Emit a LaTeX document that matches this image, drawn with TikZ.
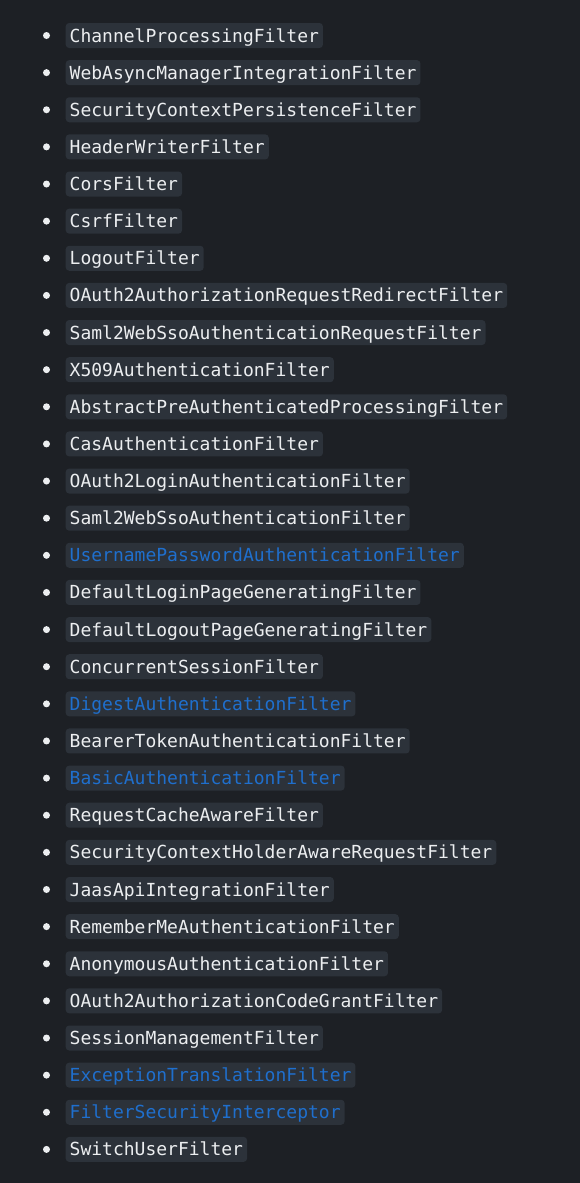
\documentclass[tikz,border=0pt]{standalone}
\usepackage{fontspec}
\setmonofont{DejaVu Sans Mono}
\definecolor{bgc}{RGB}{29,32,37}
\definecolor{boxc}{RGB}{44,50,58}
\definecolor{txtc}{RGB}{236,238,240}
\definecolor{linkc}{RGB}{31,111,205}
\begin{document}
\begin{tikzpicture}[x=1pt,y=-1pt,
  codebox/.style={anchor=west,fill=boxc,rounded corners=3.5pt,inner xsep=4pt,inner ysep=0pt,
    minimum height=25pt,text height=13pt,text depth=0pt,
    font=\fontsize{18}{18}\selectfont\ttfamily},
  bulletdot/.style={circle,fill=txtc,inner sep=0pt,minimum size=7pt}]
\fill[bgc] (0,0) rectangle (580,1183);
\useasboundingbox (0,0) rectangle (580,1183);
\foreach \name/\col [count=\i from 0] in {
  ChannelProcessingFilter/txtc,
  WebAsyncManagerIntegrationFilter/txtc,
  SecurityContextPersistenceFilter/txtc,
  HeaderWriterFilter/txtc,
  CorsFilter/txtc,
  CsrfFilter/txtc,
  LogoutFilter/txtc,
  OAuth2AuthorizationRequestRedirectFilter/txtc,
  Saml2WebSsoAuthenticationRequestFilter/txtc,
  X509AuthenticationFilter/txtc,
  AbstractPreAuthenticatedProcessingFilter/txtc,
  CasAuthenticationFilter/txtc,
  OAuth2LoginAuthenticationFilter/txtc,
  Saml2WebSsoAuthenticationFilter/txtc,
  UsernamePasswordAuthenticationFilter/linkc,
  DefaultLoginPageGeneratingFilter/txtc,
  DefaultLogoutPageGeneratingFilter/txtc,
  ConcurrentSessionFilter/txtc,
  DigestAuthenticationFilter/linkc,
  BearerTokenAuthenticationFilter/txtc,
  BasicAuthenticationFilter/linkc,
  RequestCacheAwareFilter/txtc,
  SecurityContextHolderAwareRequestFilter/txtc,
  JaasApiIntegrationFilter/txtc,
  RememberMeAuthenticationFilter/txtc,
  AnonymousAuthenticationFilter/txtc,
  OAuth2AuthorizationCodeGrantFilter/txtc,
  SessionManagementFilter/txtc,
  ExceptionTranslationFilter/linkc,
  FilterSecurityInterceptor/linkc,
  SwitchUserFilter/txtc} {
  \pgfmathsetmacro{\yy}{35.5+\i*37.13}
  \node[bulletdot] (b\i) at (46.5,\yy) {};
  \node[codebox,text=\col] (f\i) at (65.5,\yy) {\name};
}
\end{tikzpicture}
\end{document}
